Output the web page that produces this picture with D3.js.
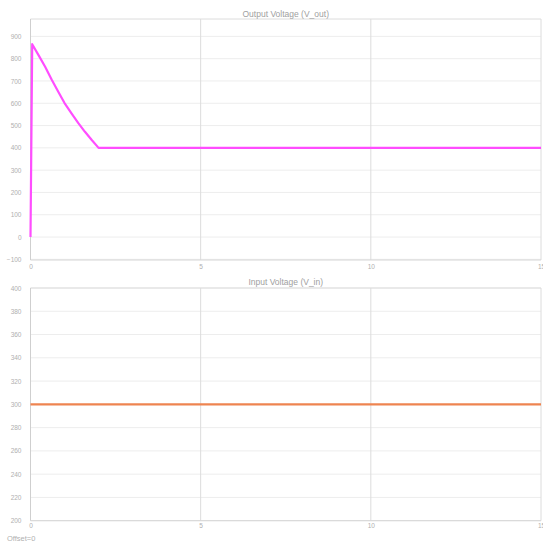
<!DOCTYPE html>
<html><head><meta charset="utf-8">
<script src="https://cdn.jsdelivr.net/npm/d3@7"></script>
<style>
body{margin:0;background:#fff;}
text{font-family:"Liberation Sans",Arial,sans-serif;}
</style></head>
<body><svg id="c" width="543" height="544"></svg>
<script>
const outTime = [0, 0.05, 0.24, 0.43, 0.62, 0.82, 1.0, 1.21, 1.4, 1.6, 1.8, 2.0, 15];
const outValue = [0, 865, 815, 764, 707, 651, 601, 554, 512, 472, 435, 400, 400];
const inTime = [0, 15];
const inValue = [300, 300];
const xTicks = [0, 5, 10, 15];
const outTicks = [-100, 0, 100, 200, 300, 400, 500, 600, 700, 800, 900];
const inTicks = [200, 220, 240, 260, 280, 300, 320, 340, 360, 380, 400];
const titles = ["Output Voltage (V_out)", "Input Voltage (V_in)"];
const footer = "Offset=0";

const svg = d3.select("#c");
const L = 30.5, R = 541;
const x = d3.scaleLinear().domain([0, 15]).range([L, R]);

function panel(top, bottom, domain, ticks, title, tData, vData, color, titleY, xLabelY) {
  const y = d3.scaleLinear().domain(domain).range([bottom, top]);
  const g = svg.append("g");
  g.selectAll(".hg").data(ticks).enter().append("line")
    .attr("x1", L).attr("x2", R)
    .attr("y1", d => y(d)).attr("y2", d => y(d))
    .attr("stroke", "#ededed").attr("stroke-width", 1);
  g.selectAll(".vg").data(xTicks.slice(1)).enter().append("line")
    .attr("x1", d => x(d)).attr("x2", d => x(d))
    .attr("y1", top).attr("y2", bottom)
    .attr("stroke", "#dcdcdc").attr("stroke-width", 1);
  g.append("line").attr("x1", L).attr("x2", R).attr("y1", top).attr("y2", top).attr("stroke", "#dcdcdc");
  g.append("line").attr("x1", L).attr("x2", R).attr("y1", bottom).attr("y2", bottom).attr("stroke", "#d6d6d6");
  g.append("line").attr("x1", L).attr("x2", L).attr("y1", top).attr("y2", bottom).attr("stroke", "#cfcfcf");
  const yAxis = d3.axisLeft(y).tickValues(ticks).tickSize(0).tickPadding(9).tickFormat(d3.format("d"));
  const ya = g.append("g").attr("transform", `translate(${L},0)`).call(yAxis);
  ya.select(".domain").remove();
  ya.selectAll("text").attr("fill", "#b0b0b0").style("font-size", "6.5px");
  const xAxis = d3.axisBottom(x).tickValues(xTicks).tickSize(0).tickPadding(0).tickFormat(d3.format("d"));
  const xa = g.append("g").attr("transform", `translate(0,${xLabelY})`).call(xAxis);
  xa.select(".domain").remove();
  xa.selectAll("text").attr("fill", "#b0b0b0").style("font-size", "6.5px");
  g.append("text").attr("x", (L + R) / 2).attr("y", titleY).attr("text-anchor", "middle")
    .attr("fill", "#a0a0a0").style("font-size", "8.5px").text(title);
  const line = d3.line().x((d, i) => x(tData[i])).y(d => y(d));
  g.append("path").datum(vData).attr("d", line)
    .attr("fill", "none").attr("stroke", color).attr("stroke-width", 2.2)
    .attr("stroke-linejoin", "round");
}

panel(19, 260, [-103, 978], outTicks, titles[0], outTime, outValue, "#ff4dff", 16.5, 264);
panel(288, 520.7, [200, 400], inTicks, titles[1], inTime, inValue, "#ee8450", 285, 523);

svg.append("text").attr("x", 7).attr("y", 541).attr("fill", "#b0b0b0")
  .style("font-size", "7.5px").text(footer);
</script></body></html>
